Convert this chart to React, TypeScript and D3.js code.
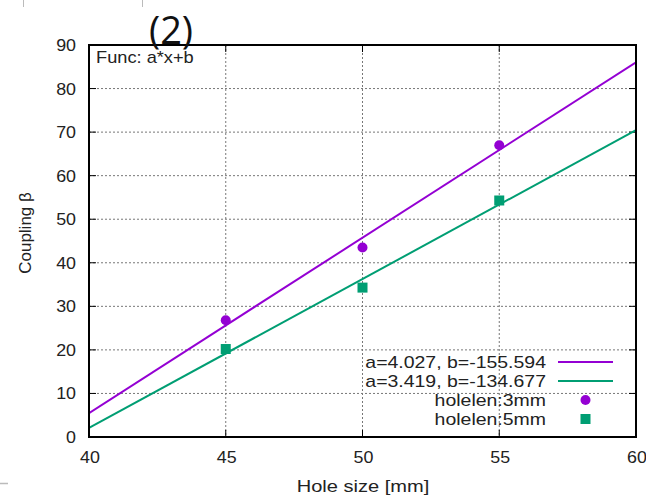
import React from "react";
import * as d3 from "d3";

const xTicks = [40, 45, 50, 55, 60];
const yTicks = [0, 10, 20, 30, 40, 50, 60, 70, 80, 90];
const holeSizes = [45, 50, 55];
const coupling3mm = [26.8, 43.5, 67.0];
const coupling5mm = [20.2, 34.3, 54.3];
const fitA = [4.027, 3.419];
const fitB = [-155.594, -134.677];
const fitLabels = ["a=4.027, b=-155.594", "a=3.419, b=-134.677"];
const pointLabels = ["holelen:3mm", "holelen:5mm"];
const colors = ["#9400d3", "#009e73"];

const W = 646;
const H = 496;
const L = 89, R = 636, T = 45, B = 437;
const font = "'Liberation Sans', Arial, sans-serif";

function SText(props: {
  x: number; y: number; sx?: number; anchor?: string; size?: number; children: any;
}) {
  const { x, y, sx = 1, anchor = "start", size = 17, children } = props;
  return (
    <text
      transform={`translate(${x},${y}) scale(${sx},1)`}
      textAnchor={anchor}
      fontFamily={font}
      fontSize={size}
      fill="#222"
    >
      {children}
    </text>
  );
}

export default function App() {
  const x = d3.scaleLinear().domain([40, 60]).range([L, R]);
  const y = d3.scaleLinear().domain([0, 90]).range([B, T]);
  const line = d3.line<number[]>().x((d) => x(d[0])).y((d) => y(d[1]));
  const fitPath = (i: number) =>
    line(x.domain().map((v) => [v, fitA[i] * v + fitB[i]])) as string;

  const legendRows = [362, 381, 400, 419];
  const legendTextX = 546;
  const lsx = 1.145;
  return (
    <svg width={W} height={H} style={{ position: "absolute", left: 0, top: 0, background: "#fff" }}>
      {/* faint artifacts */}
      <path d="M23.5,0V7M142.5,0V7" stroke="#bbb" strokeWidth={1} />
      <path d="M0,483.5H8" stroke="#bbb" strokeWidth={1.5} />
      <defs>
        <clipPath id="clip">
          <rect x={L} y={T} width={R - L} height={B - T} />
        </clipPath>
      </defs>
      {/* grid */}
      {xTicks.slice(1, -1).map((t) => (
        <line key={"gx" + t} x1={x(t)} x2={x(t)} y1={T} y2={B} stroke="#777" strokeWidth={1} strokeDasharray="2,2" />
      ))}
      {yTicks.slice(1, -1).map((t) => (
        <line key={"gy" + t} x1={L} x2={R} y1={y(t)} y2={y(t)} stroke="#777" strokeWidth={1} strokeDasharray="2,2" />
      ))}
      {/* ticks (mirrored, inward) */}
      {xTicks.map((t) => (
        <g key={"tx" + t}>
          <line x1={x(t)} x2={x(t)} y1={B} y2={B - 7} stroke="#000" />
          <line x1={x(t)} x2={x(t)} y1={T} y2={T + 7} stroke="#000" />
          <SText x={x(t) + 1} y={463} anchor="middle" sx={1.05}>
            {t}
          </SText>
        </g>
      ))}
      {yTicks.map((t) => (
        <g key={"ty" + t}>
          <line x1={L} x2={L + 7} y1={y(t)} y2={y(t)} stroke="#000" />
          <line x1={R} x2={R - 7} y1={y(t)} y2={y(t)} stroke="#000" />
          <SText x={76} y={y(t) + 6} anchor="end" sx={1.05}>
            {t}
          </SText>
        </g>
      ))}
      {/* fit lines */}
      <g clipPath="url(#clip)">
        {fitA.map((_, i) => (
          <path key={"fit" + i} d={fitPath(i)} fill="none" stroke={colors[i]} strokeWidth={2} />
        ))}
      </g>
      {/* points */}
      {holeSizes.map((h, i) => (
        <circle key={"c" + i} cx={x(h)} cy={y(coupling3mm[i])} r={5} fill={colors[0]} />
      ))}
      {holeSizes.map((h, i) => (
        <rect key={"s" + i} x={x(h) - 5} y={y(coupling5mm[i]) - 5} width={10} height={10} fill={colors[1]} />
      ))}
      {/* legend */}
      {fitLabels.map((lab, i) => (
        <g key={"lf" + i}>
          <SText x={legendTextX} y={legendRows[i] + 6} anchor="end" sx={lsx}>
            {lab}
          </SText>
          <line x1={558} x2={613} y1={legendRows[i]} y2={legendRows[i]} stroke={colors[i]} strokeWidth={2} />
        </g>
      ))}
      {pointLabels.map((lab, i) => (
        <SText key={"lp" + i} x={legendTextX} y={legendRows[i + 2] + 6} anchor="end" sx={lsx}>
          {lab}
        </SText>
      ))}
      <circle cx={585.5} cy={legendRows[2]} r={5} fill={colors[0]} />
      <rect x={580.5} y={legendRows[3] - 5} width={10} height={10} fill={colors[1]} />
      {/* border */}
      <rect x={L} y={T} width={R - L} height={B - T} fill="none" stroke="#000" strokeWidth={2} />
      <SText x={96} y={63} size={16} sx={1.14}>
        Func: a*x+b
      </SText>
      {/* labels */}
      <SText x={363} y={492} anchor="middle" sx={1.18}>
        Hole size [mm]
      </SText>
      <text transform="translate(31,233) rotate(-90)" textAnchor="middle" fontFamily={font} fontSize={17} fill="#222">
        Coupling β
      </text>
      <text x={171} y={44} textAnchor="middle" fontFamily="'Open Sans', 'DejaVu Sans', sans-serif" fontSize={38} fill="#111">
        (2)
      </text>
    </svg>
  );
}
